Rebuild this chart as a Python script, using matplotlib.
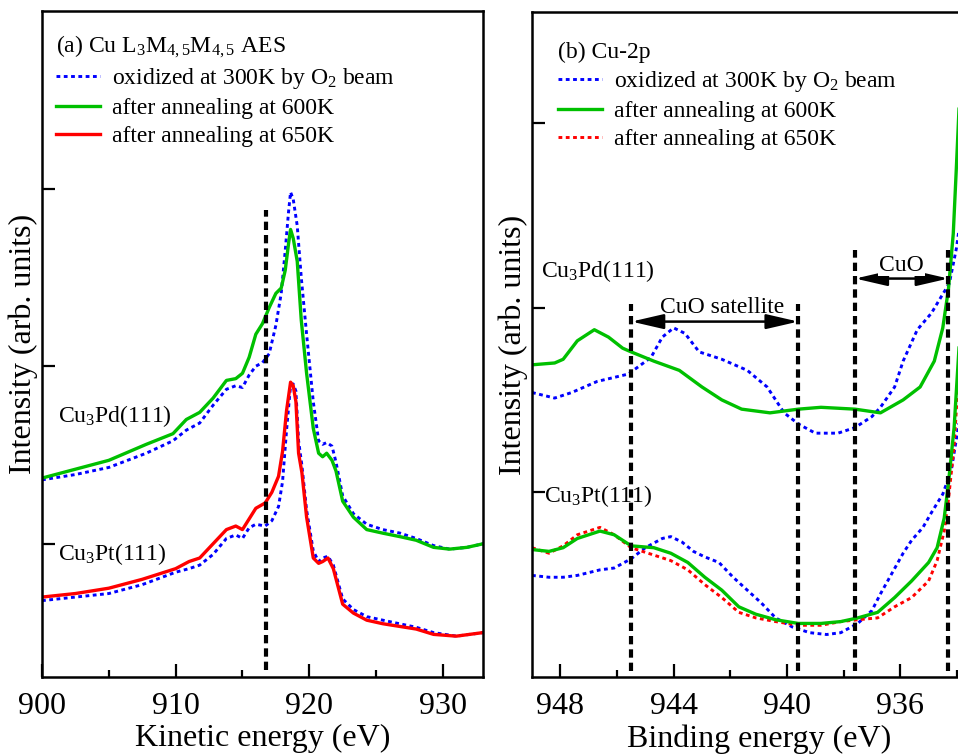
import matplotlib
matplotlib.use("Agg")
import matplotlib.pyplot as plt
from matplotlib.lines import Line2D

plt.rcParams['font.family'] = ['Liberation Serif', 'DejaVu Serif']
plt.rcParams['mathtext.fontset'] = 'custom'
plt.rcParams['mathtext.rm'] = 'Liberation Serif'
plt.rcParams['mathtext.it'] = 'Liberation Serif:italic'
plt.rcParams['mathtext.default'] = 'regular'

# ---------------- (a) Cu L3M45M45 Auger spectra ----------------
ke_pd = [900, 902.5, 905, 907.8, 909.8, 910.8, 911.8, 912.8, 913.8, 914.5, 915.0,
         915.5, 916.0, 916.5, 917.0, 917.5, 917.9, 918.2, 918.45, 918.6, 918.8,
         919.1, 919.4, 919.8, 920.3, 920.7, 921.0, 921.3, 921.7, 922.0, 922.5,
         923.3, 924.3, 925.5, 926.8, 928, 929.3, 930.5, 931.8, 933]
aes_pd_ox = [1.36, 1.39, 1.43, 1.51, 1.58, 1.64, 1.68, 1.78, 1.87, 1.89, 1.88,
             1.95, 2.00, 2.02, 2.07, 2.23, 2.41, 2.65, 2.87, 2.98, 2.94,
             2.79, 2.50, 2.18, 1.80, 1.58, 1.56, 1.57, 1.55, 1.46, 1.27,
             1.17, 1.11, 1.08, 1.06, 1.03, 0.99, 0.97, 0.98, 1.00]
aes_pd_600 = [1.37, 1.42, 1.47, 1.56, 1.62, 1.70, 1.74, 1.82, 1.92, 1.93, 1.96,
              2.05, 2.18, 2.24, 2.33, 2.41, 2.44, 2.54, 2.69, 2.77, 2.72,
              2.59, 2.26, 1.96, 1.65, 1.51, 1.49, 1.51, 1.47, 1.41, 1.24,
              1.15, 1.08, 1.06, 1.04, 1.02, 0.98, 0.97, 0.98, 1.00]

ke_pt = [900, 902.5, 905, 907.5, 910, 911, 911.8, 912.8, 913.8, 914.5, 915.0,
         915.5, 916.0, 916.7, 917.2, 917.7, 918.0, 918.3, 918.6, 918.8, 919.0,
         919.2, 919.45, 919.8, 920.3, 920.7, 921.0, 921.4, 921.8, 922.5, 923.3,
         924.3, 925.5, 928, 929.3, 931, 933]
aes_pt_ox = [0.68, 0.70, 0.72, 0.77, 0.84, 0.86, 0.88, 0.94, 1.03, 1.05, 1.03,
             1.09, 1.11, 1.10, 1.13, 1.21, 1.35, 1.64, 1.89, 1.90, 1.86,
             1.58, 1.44, 1.19, 0.96, 0.90, 0.92, 0.93, 0.88, 0.69, 0.63,
             0.59, 0.57, 0.53, 0.50, 0.48, 0.50]
aes_pt_650 = [0.70, 0.72, 0.75, 0.80, 0.86, 0.90, 0.92, 1.00, 1.08, 1.10, 1.08,
              1.14, 1.20, 1.23, 1.29, 1.38, 1.52, 1.75, 1.91, 1.89, 1.80,
              1.51, 1.40, 1.15, 0.92, 0.89, 0.90, 0.92, 0.86, 0.66, 0.61,
              0.57, 0.55, 0.52, 0.49, 0.48, 0.50]

aes_marker_ke = 916.73

# ---------------- (b) Cu 2p photoemission ----------------
be_pd_ox = [949, 948.2, 947.6, 946.7, 945.6, 944.8, 944.4, 944.0, 943.6, 943.1,
            942.3, 941.4, 940.7, 940.1, 939.6, 939.0, 938.2, 937.6, 937.0,
            936.7, 936.2, 935.9, 935.4, 934.9, 934.55, 934.27, 934.02, 933.9, 933.7]
xps_pd_ox = [1.54, 1.51, 1.54, 1.60, 1.64, 1.73, 1.84, 1.89, 1.86, 1.76,
             1.72, 1.66, 1.57, 1.43, 1.37, 1.32, 1.32, 1.35, 1.41,
             1.46, 1.57, 1.71, 1.88, 1.97, 2.06, 2.13, 2.32, 2.45, 2.74]

be_pd_600 = [949, 948.2, 947.9, 947.4, 946.8, 946.3, 945.8, 945.5, 944.7, 943.8,
             943.0, 942.3, 941.6, 940.6, 939.6, 938.8, 937.6, 936.7, 935.9,
             935.3, 934.8, 934.5, 934.3, 934.13, 934.02, 933.92, 933.8]
xps_pd_600 = [1.69, 1.70, 1.72, 1.82, 1.88, 1.84, 1.78, 1.76, 1.71, 1.66,
              1.57, 1.50, 1.45, 1.43, 1.45, 1.46, 1.45, 1.43, 1.50,
              1.57, 1.71, 1.89, 2.10, 2.40, 2.76, 3.10, 3.70]

be_pt = [949, 948.4, 947.9, 947.4, 946.6, 946.1, 945.5, 944.7, 944.1, 943.5,
         942.9, 942.3, 941.7, 941.1, 940.4, 939.6, 938.8, 938.1, 937.5, 936.8,
         936.2, 935.6, 935.0, 934.7, 934.45, 934.3, 934.1, 933.9]
xps_pt_600 = [0.69, 0.68, 0.70, 0.75, 0.79, 0.77, 0.71, 0.70, 0.67, 0.62,
              0.54, 0.47, 0.38, 0.34, 0.31, 0.29, 0.29, 0.30, 0.32, 0.35,
              0.43, 0.52, 0.62, 0.70, 0.86, 1.05, 1.35, 1.85]
xps_pt_650 = [0.70, 0.67, 0.71, 0.77, 0.81, 0.77, 0.70, 0.66, 0.63, 0.58,
              0.50, 0.43, 0.35, 0.32, 0.30, 0.28, 0.28, 0.30, 0.31, 0.32,
              0.38, 0.43, 0.52, 0.63, 0.79, 0.96, 1.25, 1.75]

be_pt_ox = [949, 948.4, 947.9, 947.4, 946.6, 946.1, 945.5, 945.0, 944.4, 944.1,
            943.7, 943.3, 942.9, 942.4, 941.9, 941.4, 940.9, 940.4, 939.8, 939.2,
            938.6, 938.1, 937.5, 937.0, 936.7, 936.3, 935.9, 935.6, 935.2, 934.9,
            934.5, 934.2, 933.9]
xps_pt_ox = [0.55, 0.54, 0.54, 0.55, 0.58, 0.59, 0.64, 0.70, 0.75, 0.76,
             0.73, 0.68, 0.65, 0.62, 0.54, 0.47, 0.40, 0.32, 0.27, 0.24,
             0.23, 0.24, 0.29, 0.36, 0.45, 0.56, 0.67, 0.74, 0.81, 0.89,
             0.99, 1.12, 1.40]

satellite_range = (945.49, 939.60)
cuo_range = (937.59, 934.30)

# ---------------- styles ----------------
BLUE, GREEN, RED = '#0000ff', '#00c000', '#ff0000'
dotted = (0, (1.3, 1.2))
black_dash = (0, (2.0, 1.2))
LW = 2.1
FS_TICK = 23
FS_TEXT = 17

fig = plt.figure(figsize=(9.58, 7.54), dpi=100)
W, H = 958, 754


def px_axes(x0, y0, x1, y1):
    return fig.add_axes([x0 / W, 1 - y1 / H, (x1 - x0) / W, (y1 - y0) / H])


def style_axes(ax):
    for s in ax.spines.values():
        s.set_linewidth(1.8)
    ax.tick_params(axis='both', which='major', direction='in', length=9.5,
                   width=1.6, labelsize=FS_TICK, pad=11)
    ax.tick_params(axis='both', which='minor', direction='in', length=5,
                   width=1.6)
    ax.tick_params(axis='y', labelleft=False, which='both')
    ax.tick_params(top=False, right=False, which='both')
    ax.set_ylabel('Intensity (arb. units)', fontsize=FS_TICK, labelpad=3)


# (a)
ax1 = px_axes(42, 11, 483, 677)
ax1.plot(ke_pd, aes_pd_ox, color=BLUE, lw=LW, ls=dotted)
ax1.plot(ke_pd, aes_pd_600, color=GREEN, lw=LW + 0.3)
ax1.plot(ke_pt, aes_pt_ox, color=BLUE, lw=LW, ls=dotted)
ax1.plot(ke_pt, aes_pt_650, color=RED, lw=LW + 0.3)
ax1.vlines(aes_marker_ke, 0.29, 2.88, color='black', lw=3, ls=black_dash)
ax1.set_xlim(900, 933)
ax1.set_ylim(0.25, 4.0)
ax1.set_xticks([900, 910, 920, 930])
ax1.set_xticks([905, 915, 925], minor=True)
ax1.set_yticks([1, 2, 3])
style_axes(ax1)
ax1.set_xlabel('Kinetic energy (eV)', fontsize=FS_TICK, labelpad=2)
ax1.text(901.2, 1.72, 'Cu$_3$Pd(111)', fontsize=FS_TEXT, va='center', ha='left')
ax1.text(901.2, 0.94, 'Cu$_3$Pt(111)', fontsize=FS_TEXT, va='center', ha='left')

handles_a = [Line2D([], [], color=BLUE, lw=LW, ls=dotted),
             Line2D([], [], color=GREEN, lw=LW + 0.3),
             Line2D([], [], color=RED, lw=LW + 0.3)]
labels = ['oxidized at 300K by O$_2$ beam', 'after annealing at 600K',
          'after annealing at 650K']
ax1.legend(handles_a, labels, loc='upper left', bbox_to_anchor=(0.032, 0.966),
           frameon=False, fontsize=FS_TEXT, title='(a) Cu L$_3$M$_{4,5}$M$_{4,5}$ AES',
           title_fontsize=FS_TEXT, alignment='left', handlelength=1.85,
           handletextpad=0.5, labelspacing=0.27, borderpad=0, borderaxespad=0)

# (b)
ax2 = px_axes(532, 12, 532 + 16 * 28.33, 677)
ax2.plot(be_pd_ox, xps_pd_ox, color=BLUE, lw=LW, ls=dotted)
ax2.plot(be_pd_600, xps_pd_600, color=GREEN, lw=LW + 0.3)
ax2.plot(be_pt_ox, xps_pt_ox, color=BLUE, lw=LW, ls=dotted)
ax2.plot(be_pt, xps_pt_650, color=RED, lw=LW, ls=dotted)
ax2.plot(be_pt, xps_pt_600, color=GREEN, lw=LW + 0.3)
ax2.vlines(satellite_range, 0.03, 2.02, color='black', lw=3, ls=black_dash)
ax2.vlines(cuo_range, 0.03, 2.31, color='black', lw=3, ls=black_dash)
arrow = dict(arrowstyle='<|-|>,head_length=1.3,head_width=0.3', color='black',
             lw=1.8, mutation_scale=15, shrinkA=0, shrinkB=0)
ax2.annotate('', xy=(satellite_range[1], 1.924), xytext=(satellite_range[0], 1.924),
             arrowprops=arrow)
ax2.annotate('', xy=(cuo_range[1], 2.157), xytext=(cuo_range[0], 2.157),
             arrowprops=arrow)
ax2.text(942.3, 2.0, 'CuO satellite', fontsize=FS_TEXT, ha='center', va='center')
ax2.text(935.96, 2.23, 'CuO', fontsize=FS_TEXT, ha='center', va='center',
         bbox=dict(facecolor='white', edgecolor='none', pad=0.5))
ax2.set_xlim(949, 933)
ax2.set_ylim(0, 3.6)
ax2.set_xticks([948, 944, 940, 936])
ax2.set_xticks([946, 942, 938, 934], minor=True)
ax2.set_yticks([1, 2, 3])
style_axes(ax2)
ax2.spines['right'].set_visible(False)
ax2.set_xlabel('Binding energy (eV)', fontsize=FS_TICK, labelpad=2)
ax2.text(948.67, 2.20, 'Cu$_3$Pd(111)', fontsize=FS_TEXT, va='center', ha='left')
ax2.text(948.56, 0.98, 'Cu$_3$Pt(111)', fontsize=FS_TEXT, va='center', ha='left')

handles_b = [Line2D([], [], color=BLUE, lw=LW, ls=dotted),
             Line2D([], [], color=GREEN, lw=LW + 0.3),
             Line2D([], [], color=RED, lw=LW, ls=dotted)]
ax2.legend(handles_b, labels, loc='upper left', bbox_to_anchor=(0.058, 0.955),
           frameon=False, fontsize=FS_TEXT, title='(b) Cu-2p',
           title_fontsize=FS_TEXT, alignment='left', handlelength=1.85,
           handletextpad=0.5, labelspacing=0.27, borderpad=0, borderaxespad=0)

fig.savefig('out.png', dpi=100)
